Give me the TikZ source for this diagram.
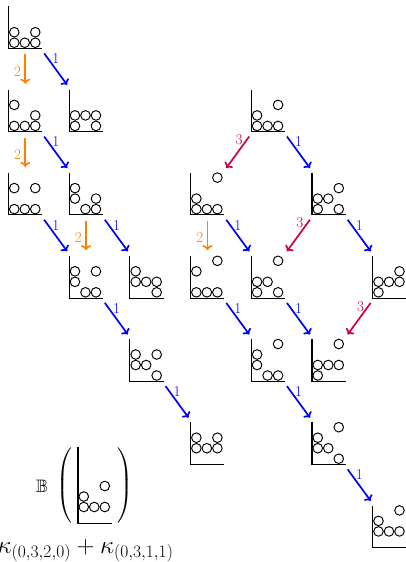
\RequirePackage{fix-cm}
\documentclass[tikz,border=0pt]{standalone}
\usepackage{amssymb}
\usepackage{tikz}
\usetikzlibrary{arrows.meta}

\definecolor{crim}{RGB}{204,0,68}

\tikzset{
  kbox/.style={minimum width=33.6pt,minimum height=42pt,inner sep=0pt,
    outer sep=0pt,anchor=south west},
  axis/.style={line width=1.1pt},
  bead/.style={line width=0.95pt},
  op1/.style={-{To[length=5pt,width=10pt]},blue,line width=1.7pt,
    shorten <=6pt,shorten >=6pt},
  op2/.style={op1,orange},
  op3/.style={op1,crim},
  big/.style={inner sep=0pt,font=\fontsize{18}{22}\selectfont},
}

% axes and beads of one diagram, beads given as col/row
\newcommand{\kcells}[2]{%
  \draw[axis] (#1.north west) |- (#1.south east);
  \foreach \c/\r in {#2}
    \draw[bead] ([shift={({10.5*(\c+.55)},{10.5*(\r+.55)})}]#1.south west)
      circle (4.8pt);}
% diagram #1 in column #2, row #3
\newcommand{\kd}[4]{%
  \node[kbox] (#1) at ({8.5+60.7*#2},{513.5-83.2*#3}) {};
  \kcells{#1}{#4}}

\begin{document}
\begin{tikzpicture}[x=1pt,y=1pt,font=\fontsize{15}{17}\selectfont]
  \useasboundingbox (0,0) rectangle (406,562);

  \kd{A}{0}{0}{0/0,1/0,2/0,0/1,2/1}
  \kd{B}{0}{1}{0/0,1/0,2/0,2/1,0/2}
  \kd{C}{1}{1}{0/0,2/0,0/1,1/1,2/1}
  \kd{J}{4}{1}{0/0,1/0,2/0,0/1,2/2}
  \kd{D}{0}{2}{0/0,1/0,2/0,0/2,2/2}
  \kd{E}{1}{2}{1/0,2/0,0/1,2/1,0/2}
  \kd{K}{3}{2}{0/0,1/0,2/0,0/1,2/3}
  \kd{L}{5}{2}{0/0,2/0,0/1,1/1,2/2}
  \kd{F}{1}{3}{1/0,2/0,0/1,0/2,2/2}
  \kd{G}{2}{3}{2/0,0/1,1/1,2/1,0/2}
  \kd{M}{3}{3}{0/0,1/0,2/0,0/2,2/3}
  \kd{N}{4}{3}{0/0,2/0,0/1,1/1,2/3}
  \kd{O}{6}{3}{0/0,0/1,1/1,2/1,2/2}
  \kd{H}{2}{4}{2/0,0/1,1/1,0/2,2/2}
  \kd{P}{4}{4}{1/0,2/0,0/1,0/2,2/3}
  \kd{Q}{5}{4}{0/0,0/1,1/1,2/1,2/3}
  \kd{I}{3}{5}{0/1,1/1,2/1,0/2,2/2}
  \kd{R}{5}{5}{2/0,0/1,1/1,0/2,2/3}
  \kd{S}{6}{6}{0/1,1/1,2/1,0/2,2/3}

  % left component
  \draw[op2] (A) -- node[pos=.55,left]{2} (B);
  \draw[op1] (A) -- node[pos=.25,right]{1} (C);
  \draw[op2] (B) -- node[pos=.55,left]{2} (D);
  \draw[op1] (B) -- node[pos=.25,right]{1} (E);
  \draw[op1] (D) -- node[pos=.25,right]{1} (F);
  \draw[op2] (E) -- node[pos=.55,left]{2} (F);
  \draw[op1] (E) -- node[pos=.25,right]{1} (G);
  \draw[op1] (F) -- node[pos=.25,right]{1} (H);
  \draw[op1] (H) -- node[pos=.25,right]{1} (I);

  % right component
  \draw[op3] (J) -- node[pos=.2,left]{3} (K);
  \draw[op1] (J) -- node[pos=.25,right]{1} (L);
  \draw[op2] (K) -- node[pos=.55,left]{2} (M);
  \draw[op1] (K) -- node[pos=.25,right]{1} (N);
  \draw[op3] (L) -- node[pos=.2,left]{3} (N);
  \draw[op1] (L) -- node[pos=.25,right]{1} (O);
  \draw[op1] (M) -- node[pos=.25,right]{1} (P);
  \draw[op1] (N) -- node[pos=.25,right]{1} (Q);
  \draw[op3] (O) -- node[pos=.2,left]{3} (Q);
  \draw[op1] (P) -- node[pos=.25,right]{1} (R);
  \draw[op1] (R) -- node[pos=.25,right]{1} (S);

  % B( T ) and its character
  \node[kbox,minimum height=76pt] (T) at (78,38.7) {};
  \kcells{T}{0/1,1/1,2/1,0/2,2/3}
  \node[big,anchor=east] (lpar) at ([xshift=-4.5pt]T.west)
    {$\left(\vcenter{\hbox{\rule{0pt}{74pt}}}\right.$};
  \node[big,anchor=west] (rpar) at ([xshift=4.5pt]T.east)
    {$\left.\vcenter{\hbox{\rule{0pt}{74pt}}}\right)$};
  \node[big] (bb) at (42,76) {$\mathbb{B}$};
  \node[anchor=base east,font=\fontsize{25}{30}\selectfont] (chi) at (177,8.5)
    {$\kappa_{(0,3,2,0)}+\kappa_{(0,3,1,1)}$};
\end{tikzpicture}
\end{document}
